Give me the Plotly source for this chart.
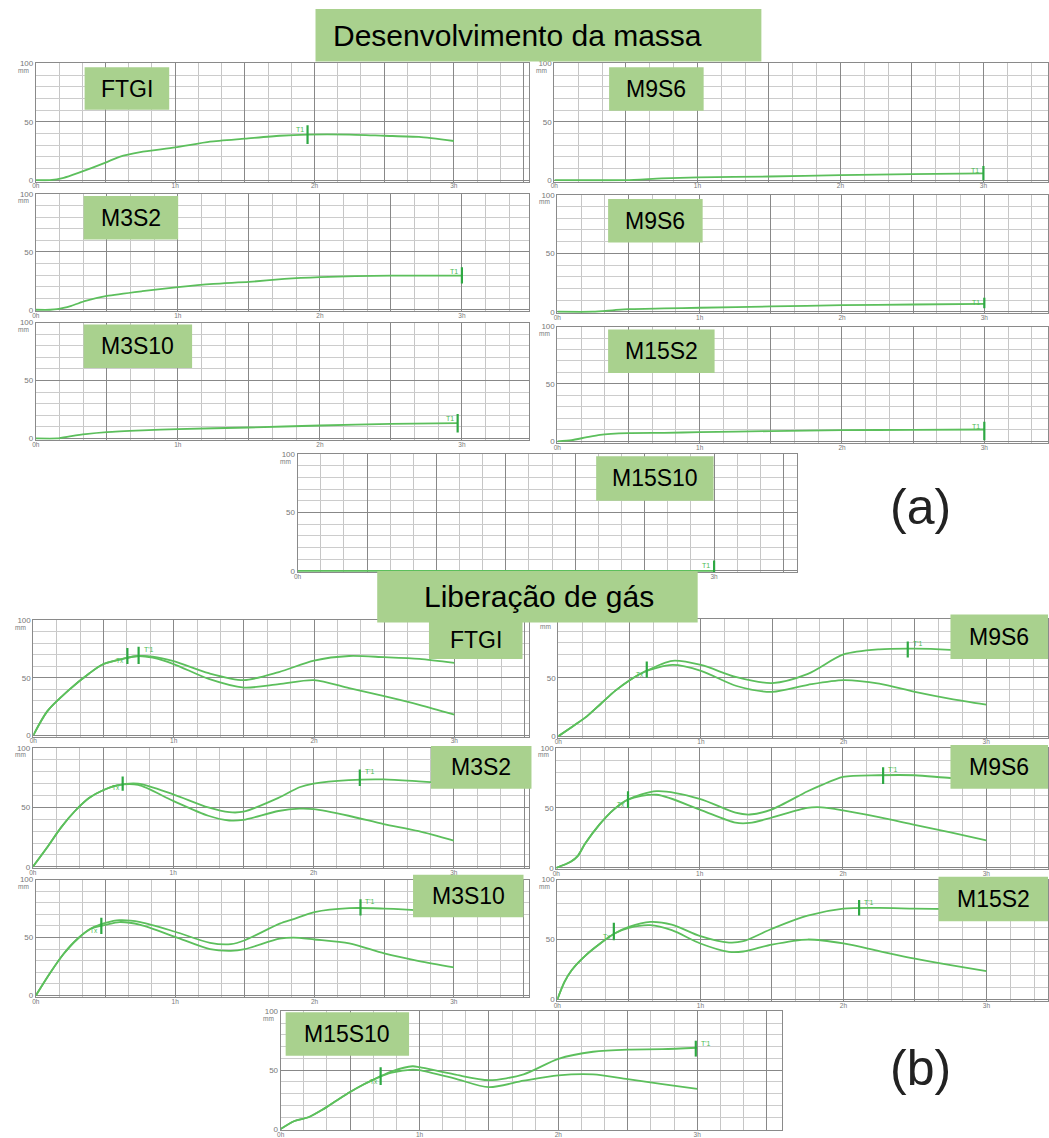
import plotly.graph_objects as go

W, H = 1049, 1138

# ---------------- (a) Desenvolvimento da massa  (time h, height mm)
a_ftgi_t = [0, 0.1, 0.2, 0.3, 0.5, 0.6, 0.75, 1.0, 1.25, 1.5, 1.75, 1.95, 2.25, 2.5, 2.75, 3.0]
a_ftgi_y = [0, 0, 2, 6, 15, 20, 24, 28, 33, 35.5, 38, 39, 39, 38, 37, 33.5]
a_ftgi_t1 = [1.95, 31, 47]

a_m9s6_t = [0, 0.5, 0.75, 1.0, 1.5, 2.0, 2.5, 3.0]
a_m9s6_y = [0, 0, 1.5, 2.3, 3.1, 4.3, 5.1, 5.7]
a_m9s6_t1 = [3.0, 0, 12]

a_m3s2_t = [0, 0.1, 0.15, 0.25, 0.35, 0.5, 0.75, 1.0, 1.25, 1.5, 1.75, 2.0, 2.25, 2.5, 2.75, 3.0]
a_m3s2_y = [0, 0, 0.5, 3.4, 7.6, 11.9, 16, 19.5, 22.3, 24, 26.6, 28.2, 29, 29.4, 29.4, 29.4]
a_m3s2_t1 = [3.0, 22.6, 36.7]

a_m9s6b_t = [0, 0.25, 0.4, 0.5, 0.75, 1.0, 1.5, 2.0, 2.5, 3.0]
a_m9s6b_y = [0, 0, 1.4, 2.2, 2.8, 3.4, 4.5, 5.6, 6.2, 6.7]
a_m9s6b_t1 = [3.0, 3, 12]

a_m3s10_t = [0, 0.15, 0.25, 0.35, 0.5, 0.75, 1.0, 1.5, 2.0, 2.5, 2.97]
a_m3s10_y = [0, 0, 2, 3.7, 5.4, 6.9, 8, 9.4, 11.1, 12.6, 13.1]
a_m3s10_t1 = [2.97, 5, 21]

a_m15s2_t = [0, 0.1, 0.2, 0.3, 0.5, 0.75, 1.0, 1.5, 2.0, 2.5, 3.0]
a_m15s2_y = [0, 1, 3.4, 5.7, 7.1, 7.4, 8, 8.9, 9.7, 10, 10.3]
a_m15s2_t1 = [3.0, 1, 17]

a_m15s10_t = [0, 3.0]
a_m15s10_y = [0, 0]
a_m15s10_t1 = [3.0, -1, 9]

# ---------------- (b) Liberação de gás  (time h, height mm; upper = T'1 curve, lower curve)
b_ftgi_t = [0, 0.1, 0.25, 0.4, 0.5, 0.65, 0.75, 0.85, 1.0, 1.25, 1.5, 1.75, 2.0, 2.25, 2.5, 2.75, 3.0]
b_ftgi_up = [0, 21, 39, 54, 62, 67, 69, 68.5, 64.5, 54, 48, 55, 65, 69, 68, 66.5, 63]
b_ftgi_lo = [0, 21, 39, 54, 62, 67, 69, 67.5, 62, 49, 41.5, 44.5, 48, 41, 34, 26.5, 18]
b_ftgi_tx = [0.67, 62, 76]
b_ftgi_t1 = [0.75, 62, 77]

b_m9s6_t = [0, 0.1, 0.2, 0.3, 0.4, 0.5, 0.6, 0.8, 1.0, 1.25, 1.5, 1.75, 2.0, 2.25, 2.5, 2.75, 3.0]
b_m9s6_up = [0, 8.4, 17, 28, 39, 48, 55, 64.6, 61, 50.5, 45.5, 53.4, 70, 74.4, 75, 74, 72]
b_m9s6_lo = [0, 8.4, 17, 28, 39, 48, 55, 61, 56, 43, 38, 44, 48, 45, 38, 32, 27]
b_m9s6_tx = [0.62, 50, 64]
b_m9s6_t1 = [2.45, 67.5, 81]

b_m3s2_t = [0, 0.1, 0.2, 0.3, 0.4, 0.5, 0.6, 0.75, 1.0, 1.25, 1.4, 1.5, 1.75, 1.9, 2.0, 2.25, 2.5, 2.75, 3.0]
b_m3s2_up = [0, 16, 33, 47, 58, 64.5, 68.6, 70, 61, 50, 46, 46.4, 58, 67, 70, 73, 73.6, 72, 70]
b_m3s2_lo = [0, 16, 33, 47, 58, 64.5, 68.6, 69, 55.5, 43, 39, 39.5, 47, 49, 48.6, 43, 36, 30, 22]
b_m3s2_tx = [0.64, 64, 76]
b_m3s2_t1 = [2.33, 68, 82]

b_m9s6b_t = [0, 0.1, 0.15, 0.2, 0.3, 0.4, 0.5, 0.7, 1.0, 1.25, 1.35, 1.5, 1.75, 1.85, 2.0, 2.25, 2.5, 2.75, 3.0]
b_m9s6b_up = [0, 5, 10, 20, 36, 48.6, 57, 64, 57.6, 46, 44.5, 48.6, 63.7, 69, 76, 77.3, 77.3, 75, 74]
b_m9s6b_lo = [0, 5, 10, 20, 36, 48.6, 57, 61, 48.6, 37.7, 37.5, 41.8, 50, 50.5, 48, 42.3, 35.8, 29.5, 23]
b_m9s6b_tx = [0.5, 50, 64]
b_m9s6b_t1 = [2.28, 70, 84]

b_m3s10_t = [0, 0.1, 0.2, 0.3, 0.4, 0.5, 0.6, 0.75, 1.0, 1.25, 1.4, 1.5, 1.75, 1.85, 2.0, 2.25, 2.5, 2.75, 3.0]
b_m3s10_up = [0, 19, 36, 49, 58, 62.6, 65, 63.4, 55, 45.4, 44.3, 47.7, 62, 66, 72, 75.4, 75, 73.5, 70.6]
b_m3s10_lo = [0, 19, 36, 49, 58, 61, 63.4, 61, 50.6, 40, 38.5, 40, 49, 50, 48.3, 44.9, 36.3, 29.7, 24.3]
b_m3s10_tx = [0.47, 53, 67]
b_m3s10_t1 = [2.33, 69, 83]

b_m15s2_t = [0, 0.05, 0.1, 0.2, 0.3, 0.4, 0.5, 0.65, 0.8, 1.0, 1.2, 1.3, 1.5, 1.75, 2.0, 2.25, 2.5, 2.75, 3.0]
b_m15s2_up = [0, 14.7, 24.4, 37, 46.7, 55, 60.5, 64.7, 62.5, 52.8, 47.5, 48.6, 59, 70, 75.8, 76.4, 75.8, 75.5, 75.3]
b_m15s2_lo = [0, 14.7, 24.4, 37, 46.7, 55, 59.7, 62, 57.8, 46.7, 39.7, 40, 45.8, 50, 46.7, 40.3, 34, 28.6, 23.6]
b_m15s2_tx = [0.395, 49.4, 64]
b_m15s2_t1 = [2.11, 70, 83]

b_m15s10_t = [0, 0.1, 0.2, 0.3, 0.4, 0.5, 0.6, 0.7, 0.8, 0.95, 1.0, 1.25, 1.5, 1.75, 2.0, 2.25, 2.5, 2.75, 3.0]
b_m15s10_up = [0, 6.8, 10, 16.4, 24, 31.4, 38, 43.7, 49, 53.3, 52.5, 46.4, 41.5, 46.4, 59.6, 65.6, 67.5, 67.8, 69]
b_m15s10_lo = [0, 6.8, 10, 16.4, 24, 31.4, 38, 43.7, 47.8, 50.5, 50, 43, 35.5, 41, 45.6, 46.4, 42.3, 38.2, 34]
b_m15s10_tx = [0.72, 37.4, 52.5]
b_m15s10_t1 = [2.99, 61.5, 75]

sample_names = ["FTGI", "M9S6", "M3S2", "M9S6", "M3S10", "M15S2", "M15S10"]
y_ticks = [0, 50, 100]
x_hours = [0, 1, 2, 3]

# ---------------- layout geometry (pixels): left(0h), px per hour, right, top(100), bottom(0)
geom = [
    (32, 140.0, 528, 60, 178), (553, 143.7, 1049, 60, 178),
    (32, 142.7, 528, 192, 309), (556, 143.0, 1049, 193, 311),
    (32, 142.7, 528, 322, 439), (556, 143.0, 1049, 326, 442),
    (295, 139.5, 797, 455, 573),
    (29.5, 141.0, 528, 623, 739), (557, 143.3, 1049, 622, 740),
    (29, 141.0, 528, 752, 872), (555, 144.0, 1049, 752, 873),
    (32, 140.0, 528, 885, 1002), (556, 143.7, 1049, 885, 1006),
    (278, 139.5, 782, 1018, 1137),
]
# label boxes (pixels): x0, x1, y0, y1
boxes = [
    (81, 166, 64, 107), (608, 703, 64, 108),
    (80, 175, 194, 238), (607, 702, 197, 241),
    (80, 189, 324, 368), (607, 714, 329, 373),
    (595, 713, 457, 502),
    (427, 521, 624, 662), (951, 1049, 617, 662),
    (429, 530, 750, 793), (951, 1049, 749, 793),
    (411, 522, 880, 923), (939, 1049, 882, 927),
    (283, 407, 1019, 1063),
]

a_series = [
    (a_ftgi_t, a_ftgi_y, a_ftgi_t1), (a_m9s6_t, a_m9s6_y, a_m9s6_t1),
    (a_m3s2_t, a_m3s2_y, a_m3s2_t1), (a_m9s6b_t, a_m9s6b_y, a_m9s6b_t1),
    (a_m3s10_t, a_m3s10_y, a_m3s10_t1), (a_m15s2_t, a_m15s2_y, a_m15s2_t1),
    (a_m15s10_t, a_m15s10_y, a_m15s10_t1),
]
b_series = [
    (b_ftgi_t, b_ftgi_up, b_ftgi_lo, b_ftgi_tx, b_ftgi_t1),
    (b_m9s6_t, b_m9s6_up, b_m9s6_lo, b_m9s6_tx, b_m9s6_t1),
    (b_m3s2_t, b_m3s2_up, b_m3s2_lo, b_m3s2_tx, b_m3s2_t1),
    (b_m9s6b_t, b_m9s6b_up, b_m9s6b_lo, b_m9s6b_tx, b_m9s6b_t1),
    (b_m3s10_t, b_m3s10_up, b_m3s10_lo, b_m3s10_tx, b_m3s10_t1),
    (b_m15s2_t, b_m15s2_up, b_m15s2_lo, b_m15s2_tx, b_m15s2_t1),
    (b_m15s10_t, b_m15s10_up, b_m15s10_lo, b_m15s10_tx, b_m15s10_t1),
]

LINE = "#5cbf5c"
MARK = "#2ea843"
MTXT = "#4cbb50"
BOX = "#a9d18e"
FONT = "Liberation Sans, Arial, sans-serif"

fig = go.Figure()
layout = dict(width=W, height=H, margin=dict(l=0, r=0, t=0, b=0),
              paper_bgcolor="white", plot_bgcolor="white", showlegend=False)
annotations = []
shapes = []
YLO = -1.2


def px_x(p):
    return min(1.0, max(0.0, p / W))


def px_y(p):
    return min(1.0, max(0.0, 1 - p / H))


for i, (left, pxh, right, top, bottom) in enumerate(geom):
    k = i + 1
    xmax = (right - left) / pxh
    ppm = (bottom - top) / 100.0
    ybot = min(H, bottom - YLO * ppm)
    ylo = -(ybot - bottom) / ppm
    major_x = [j * 0.5 for j in range(int(xmax / 0.5) + 1)]
    minor_x = [j / 6 for j in range(int(xmax * 6) + 1) if j % 3 != 0]
    xa = dict(domain=[px_x(left), px_x(right)], range=[0, xmax],
              anchor="y%d" % k, tickmode="array", tickvals=major_x,
              ticktext=[("%dh" % round(v)) if abs(v - round(v)) < 1e-9 and round(v) in x_hours else "" for v in major_x],
              showgrid=True, gridcolor="#888888", gridwidth=1, zeroline=False,
              showline=True, mirror=True, linecolor="#8a8a8a", linewidth=1,
              ticks="", ticklabelstandoff=-2, tickfont=dict(size=6.5, color="#777", family=FONT),
              minor=dict(tickvals=minor_x, showgrid=True, gridcolor="#c6c6c6", gridwidth=1, ticks=""),
              fixedrange=True)
    ya = dict(domain=[px_y(ybot), px_y(top)], range=[ylo, 100], anchor="x%d" % k,
              tickmode="array", tickvals=y_ticks, ticktext=[str(v) for v in y_ticks],
              showgrid=True, gridcolor="#888888", gridwidth=1, zeroline=False,
              showline=True, mirror=True, linecolor="#8a8a8a", linewidth=1,
              ticks="", tickfont=dict(size=8, color="#777", family=FONT),
              minor=dict(tickvals=list(range(10, 100, 10)), showgrid=True, gridcolor="#cccccc", gridwidth=1, ticks=""),
              fixedrange=True)
    layout["xaxis%d" % k] = xa
    layout["yaxis%d" % k] = ya
    annotations.append(dict(x=px_x(left - 5), y=px_y(top + 7), xref="paper", yref="paper",
                            text="mm", showarrow=False, xanchor="right", yanchor="middle",
                            font=dict(size=6.5, color="#777", family=FONT)))


def vmark(k, m, width=2.5):
    fig.add_trace(go.Scatter(x=[m[0], m[0]], y=[m[1], m[2]], mode="lines",
                             line=dict(color=MARK, width=width), xaxis="x%d" % k, yaxis="y%d" % k,
                             hoverinfo="skip"))


for i, (t, y, t1) in enumerate(a_series):
    k = i + 1
    fig.add_trace(go.Scatter(x=t, y=y, mode="lines", line=dict(color=LINE, width=1.8, shape="spline", smoothing=0.6),
                             xaxis="x%d" % k, yaxis="y%d" % k))
    vmark(k, t1, 2.2)
    annotations.append(dict(x=t1[0], y=t1[2] - 4, xref="x%d" % k, yref="y%d" % k, text="T1",
                            showarrow=False, xanchor="right", xshift=-2,
                            font=dict(size=7, color=MTXT, family=FONT)))

for i, (t, up, lo, tx, t1) in enumerate(b_series):
    k = i + 8
    for yy in (lo, up):
        fig.add_trace(go.Scatter(x=t, y=yy, mode="lines", line=dict(color=LINE, width=1.8, shape="spline", smoothing=0.8),
                                 xaxis="x%d" % k, yaxis="y%d" % k))
    vmark(k, tx, 2.2)
    vmark(k, t1, 2.2)
    annotations.append(dict(x=tx[0], y=tx[1] + 3, xref="x%d" % k, yref="y%d" % k, text="Tx",
                            showarrow=False, xanchor="right", xshift=-1,
                            font=dict(size=6.5, color=MTXT, family=FONT)))
    annotations.append(dict(x=t1[0], y=t1[2] - 2, xref="x%d" % k, yref="y%d" % k, text="T'1",
                            showarrow=False, xanchor="left", xshift=3,
                            font=dict(size=7, color=MTXT, family=FONT)))

# label boxes
names = sample_names + sample_names
for (x0, x1, y0, y1), name in zip(boxes, names):
    shapes.append(dict(type="rect", xref="paper", yref="paper", x0=px_x(x0), x1=px_x(x1),
                       y0=px_y(y1), y1=px_y(y0), fillcolor=BOX, line=dict(width=0), layer="above"))
    annotations.append(dict(x=px_x((x0 + x1) / 2), y=px_y((y0 + y1) / 2), xref="paper", yref="paper",
                            text=name, showarrow=False, xanchor="center", yanchor="middle",
                            font=dict(size=23, color="black", family=FONT)))

# section titles
for (x0, x1, y0, y1, tx_, txt) in [(313, 761, 5, 58, 516, "Desenvolvimento da massa"),
                                    (375, 697, 573, 625, 538, "Liberação de gás")]:
    shapes.append(dict(type="rect", xref="paper", yref="paper", x0=px_x(x0), x1=px_x(x1),
                       y0=px_y(y1), y1=px_y(y0), fillcolor=BOX, line=dict(width=0), layer="above"))
    annotations.append(dict(x=px_x(tx_), y=px_y((y0 + y1) / 2), xref="paper", yref="paper",
                            text=txt, showarrow=False, xanchor="center", yanchor="middle",
                            font=dict(size=30, color="black", family=FONT)))

for txt, cx, cy in [("(a)", 921, 508), ("(b)", 921, 1075)]:
    annotations.append(dict(x=px_x(cx), y=px_y(cy), xref="paper", yref="paper", text=txt,
                            showarrow=False, xanchor="center", yanchor="middle",
                            font=dict(size=50, color="#222", family=FONT)))

layout["annotations"] = annotations
layout["shapes"] = shapes
fig.update_layout(**layout)
fig.write_html("out.html")
